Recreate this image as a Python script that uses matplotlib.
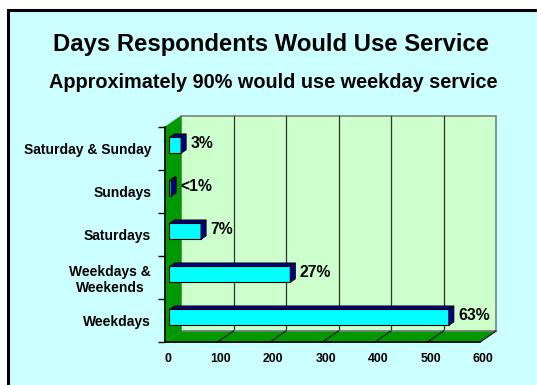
import numpy as np
import matplotlib.pyplot as plt
import matplotlib.transforms as mtransforms
from matplotlib.patches import Polygon, Rectangle

plt.rcParams['font.family'] = ['Liberation Sans', 'DejaVu Sans']
plt.rcParams['font.weight'] = 'bold'

# respondents per option, bottom row first
categories = ['Weekdays', 'Weekdays &\nWeekends', 'Saturdays', 'Sundays', 'Saturday & Sunday']
counts = [532, 230, 60, 3, 22]
pct_labels = ['63%', '27%', '7%', '<1%', '3%']
xticks = [0, 100, 200, 300, 400, 500, 600]

title = 'Days Respondents Would Use Service'
subtitle = 'Approximately 90% would use weekday service'

# pseudo-3d depth, in data units
DX, DY = 30.5, 0.256
f0, f1 = 0.28, 0.60      # front / back of the bars within the depth
bar_h = 0.37
wall = '#CCFFCC'
green = '#009900'
cyan = '#00FFFF'
navy = '#000080'

fig = plt.figure(figsize=(5.37, 3.85), dpi=100)
fig.patch.set_facecolor('white')
fig.patches.append(Rectangle((8 / 537, -0.1), 1.2, 1.1 - 10 / 385,
                             transform=fig.transFigure, facecolor='#CCFFFF',
                             edgecolor='black', lw=2.2, zorder=-10))

fig.text(271 / 537, 1 - 45 / 385, title, ha='center', va='center', fontsize=17.2)
fig.text(273 / 537, 1 - 82 / 385, subtitle, ha='center', va='center', fontsize=14.3)

ax = fig.add_axes([165 / 537, 43 / 385, 315 / 537, 215 / 385])
ax.set_facecolor('none')
n = len(categories)
xmax = xticks[-1]
ax.set_xlim(0, xmax)
ax.set_ylim(0, n)

# back wall, floor, side wall
ax.add_patch(Polygon([(DX, DY), (xmax + DX, DY), (xmax + DX, n + DY), (DX, n + DY)],
                     closed=True, facecolor=wall, edgecolor='#808080', lw=1.2,
                     clip_on=False, zorder=1))
for xv in xticks[1:-1]:
    ax.plot([xv + DX, xv + DX], [DY, n + DY], color='#333333', lw=0.9,
            clip_on=False, zorder=2)
ax.add_patch(Polygon([(0, 0), (xmax, 0), (xmax + DX, DY), (DX, DY)], closed=True,
                     facecolor=green, edgecolor='#808080', lw=1.0, clip_on=False, zorder=3))
ax.add_patch(Polygon([(0, 0), (DX, DY), (DX, n + DY), (0, n)], closed=True,
                     facecolor=green, edgecolor=green, lw=0.5, clip_on=False, zorder=3))
for xv in xticks[1:]:
    ax.plot([xv, xv + DX], [0, DY], color='#1a1a1a', lw=0.9, clip_on=False, zorder=4)

# bars: cyan front faces, navy tops and ends
y = np.arange(n) + 0.5
x0 = f0 * DX
ddx, ddy = (f1 - f0) * DX, (f1 - f0) * DY
ax.barh(y + f0 * DY, counts, left=x0, height=bar_h, color=cyan,
        edgecolor='black', lw=0.8, zorder=6)
for yc, v, lab in zip(y + f0 * DY, counts, pct_labels):
    yb, yt = yc - bar_h / 2, yc + bar_h / 2
    ax.add_patch(Polygon([(x0, yt), (x0 + v, yt), (x0 + v + ddx, yt + ddy), (x0 + ddx, yt + ddy)],
                         closed=True, facecolor=navy, edgecolor='black', lw=0.6, zorder=5))
    ax.add_patch(Polygon([(x0 + v, yb), (x0 + v + ddx, yb + ddy), (x0 + v + ddx, yt + ddy), (x0 + v, yt)],
                         closed=True, facecolor=navy, edgecolor='black', lw=0.6, zorder=7))
    ax.annotate(lab, (x0 + v + ddx, yc + ddy / 2), xytext=(3, 0), textcoords='offset points',
                ha='left', va='center', fontsize=11.3, zorder=8)

for s in ['top', 'right']:
    ax.spines[s].set_visible(False)
ax.spines['left'].set_zorder(5)
ax.spines['bottom'].set_zorder(5)
ax.spines['left'].set_linewidth(1.2)
ax.spines['bottom'].set_linewidth(1.2)

ax.set_xticks(xticks)
ax.set_xticklabels([str(t) for t in xticks], fontsize=8.8)
ax.tick_params(axis='x', length=0, pad=8)
shift = mtransforms.ScaledTranslation(3 / 100, 0, fig.dpi_scale_trans)
for lbl in ax.get_xticklabels():
    lbl.set_transform(lbl.get_transform() + shift)
ax.set_yticks(np.arange(n + 1))
ax.set_yticklabels([])
ax.tick_params(axis='y', which='major', length=5, width=1)
ax.set_yticks(y, minor=True)
ax.set_yticklabels(categories, minor=True, fontsize=10, multialignment='center')
ax.tick_params(axis='y', which='minor', length=0, pad=10)

fig.savefig('out.png', dpi=100)
